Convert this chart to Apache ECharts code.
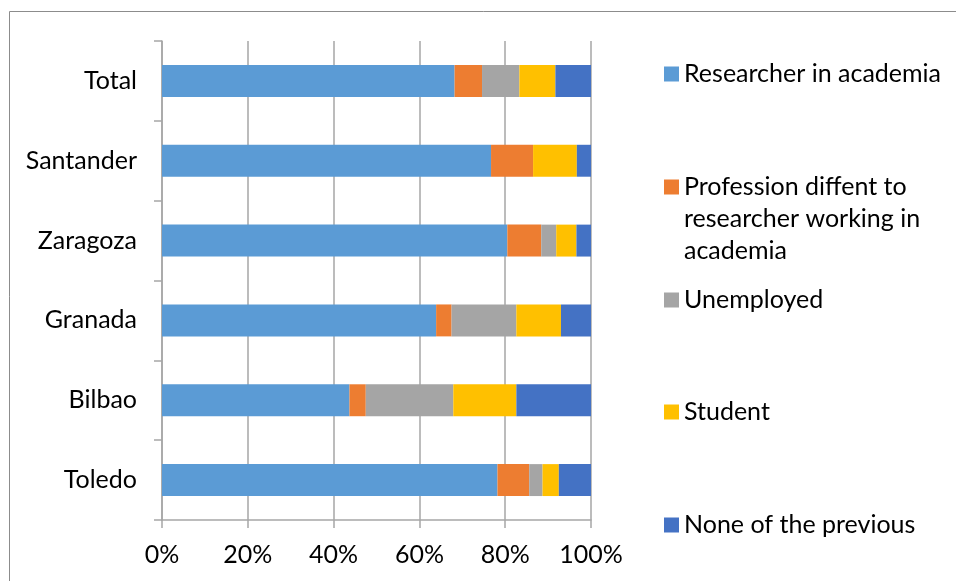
<!DOCTYPE html>
<html>
<head>
<meta charset="utf-8">
<script src="https://cdn.jsdelivr.net/npm/echarts@6/dist/echarts.min.js"></script>
<style>
html,body{margin:0;padding:0;background:#fff;}
#c{width:956px;height:581px;}
</style>
</head>
<body>
<div id="c"></div>
<script>
const categories = ['Total', 'Santander', 'Zaragoza', 'Granada', 'Bilbao', 'Toledo'];
const seriesNames = ['Researcher in academia', 'Profession diffent to', 'Unemployed', 'Student', 'None of the previous'];
const professionExtraLines = 'researcher working in\nacademia';
const researcher = [68.2, 76.7, 80.5, 63.9, 43.7, 78.2];
const profession = [6.4, 9.8, 7.9, 3.6, 3.8, 7.4];
const unemployed = [8.7, 0, 3.5, 15.1, 20.4, 3.1];
const student = [8.4, 10.2, 4.7, 10.4, 14.7, 3.8];
const none = [8.3, 3.3, 3.4, 7.0, 17.4, 7.5];
const xTicks = [0, 20, 40, 60, 80, 100];

const colors = ['#5B9BD5', '#ED7D31', '#A5A5A5', '#FFC000', '#4472C4'];
const values = [researcher, profession, unemployed, student, none];
const FONT = 'Lato';
const FS = 25;

const chart = echarts.init(document.getElementById('c'));

const legendTops = [58, 171, 284, 396, 509];
const legends = seriesNames.map((n, i) => ({
  data: [n],
  left: 664,
  top: legendTops[i],
  orient: 'vertical',
  itemWidth: 15,
  itemHeight: 15,
  itemGap: 0,
  padding: 0,
  icon: 'rect',
  selectedMode: false,
  textStyle: { fontFamily: FONT, fontSize: FS, color: '#000', lineHeight: 32 }
}));

chart.setOption({
  animation: false,
  color: colors,
  textStyle: { fontFamily: FONT },
  graphic: [{
    type: 'rect',
    shape: { x: 9.5, y: 11.5, width: 1000, height: 700 },
    style: { fill: 'none', stroke: '#8c8c8c', lineWidth: 1 },
    silent: true
  }, {
    type: 'text',
    left: 684,
    top: 203,
    style: { text: professionExtraLines, font: FS + 'px ' + FONT, fill: '#000', lineHeight: 32 },
    silent: true
  }],
  legend: legends,
  grid: { left: 162, right: 365, top: 41, bottom: 61, containLabel: false },
  xAxis: {
    type: 'value',
    min: xTicks[0],
    max: xTicks[xTicks.length - 1],
    interval: 20,
    axisLine: { show: true, lineStyle: { color: '#a6a6a6', width: 1.5 } },
    axisTick: { show: true, length: 8, lineStyle: { color: '#a6a6a6', width: 1.5 } },
    splitLine: { show: true, lineStyle: { color: '#a6a6a6', width: 1.5 } },
    axisLabel: { formatter: '{value}%', color: '#000', fontSize: FS, fontFamily: FONT, margin: 22 }
  },
  yAxis: {
    type: 'category',
    data: categories,
    inverse: true,
    axisLine: { show: true, lineStyle: { color: '#a6a6a6', width: 1.5 } },
    axisTick: { show: true, length: 8, lineStyle: { color: '#a6a6a6', width: 1.5 } },
    axisLabel: { color: '#000', fontSize: FS, fontFamily: FONT, margin: 25 }
  },
  series: seriesNames.map((n, i) => ({
    name: n,
    type: 'bar',
    stack: 'total',
    barWidth: '40%',
    data: values[i],
    itemStyle: { color: colors[i] }
  }))
});
</script>
</body>
</html>
